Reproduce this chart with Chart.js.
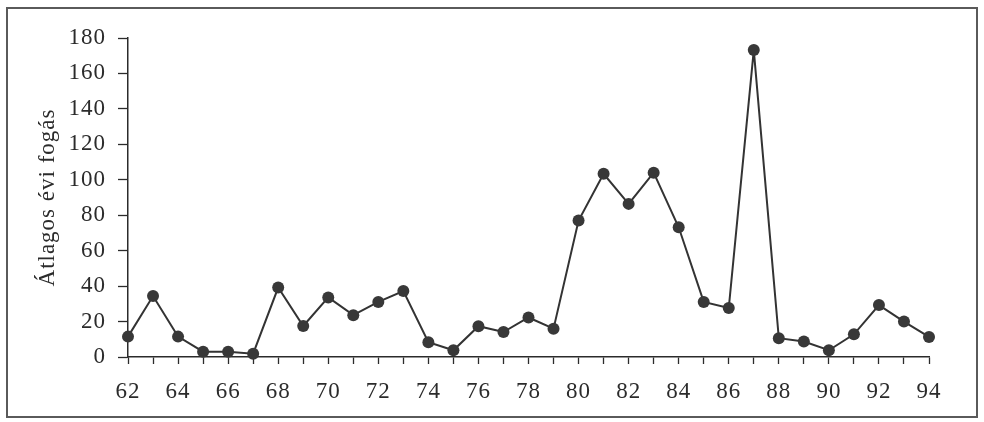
<!DOCTYPE html>
<html>
<head>
<meta charset="utf-8">
<script src="https://cdn.jsdelivr.net/npm/chart.js@4"></script>
<style>
  html, body { margin: 0; padding: 0; background: #ffffff; }
  #wrap { position: relative; width: 984px; height: 422px; }
</style>
</head>
<body>
<div id="wrap"><canvas id="c" width="984" height="422"></canvas></div>
<script>
const years = ['62','63','64','65','66','67','68','69','70','71','72','73','74','75','76','77','78','79','80','81','82','83','84','85','86','87','88','89','90','91','92','93','94'];
const catch_ = [11.5, 34.4, 11.5, 3, 3, 1.9, 39.2, 17.5, 33.6, 23.6, 31.1, 37.2, 8.3, 3.8, 17.4, 14.1, 22.3, 16, 77, 103.4, 86.4, 104, 73.2, 31.1, 27.6, 173.2, 10.6, 8.7, 3.8, 12.8, 29.3, 20, 11.3];
const yTitle = 'Átlagos évi fogás';

const ink = '#2b2b2b';
const serif = "'Liberation Serif', 'Times New Roman', serif";

const framePlugin = {
  id: 'frame',
  beforeDraw(chart) {
    const ctx = chart.ctx;
    ctx.save();
    ctx.fillStyle = '#ffffff';
    ctx.fillRect(0, 0, chart.width, chart.height);
    ctx.strokeStyle = '#5a5a5a';
    ctx.lineWidth = 2;
    ctx.strokeRect(7, 8, 970, 409);
    ctx.restore();
    ctx.letterSpacing = '1px';
  },
  afterDraw(chart) {
    chart.ctx.letterSpacing = '0px';
  }
};

new Chart(document.getElementById('c'), {
  type: 'line',
  data: {
    labels: years,
    datasets: [{
      data: catch_,
      borderColor: '#333333',
      borderWidth: 2,
      backgroundColor: '#383838',
      pointBackgroundColor: '#383838',
      pointBorderColor: '#383838',
      pointBorderWidth: 0,
      pointRadius: 6,
      tension: 0,
      clip: false
    }]
  },
  options: {
    responsive: false,
    animation: false,
    devicePixelRatio: 1,
    layout: { padding: { top: 38, right: 55, bottom: 0, left: 0 } },
    plugins: { legend: { display: false }, tooltip: { enabled: false } },
    scales: {
      x: {
        type: 'category',
        offset: false,
        afterFit(scale) { scale.height = 65; },
        border: { display: true, color: ink, width: 1.5 },
        grid: { drawOnChartArea: false, drawTicks: true, tickLength: 7, tickColor: ink, tickWidth: 1.3 },
        ticks: {
          autoSkip: false,
          maxRotation: 0,
          padding: 14,
          color: ink,
          font: { family: serif, size: 23 },
          callback(v, i) { return i % 2 === 0 ? years[i] : ''; }
        }
      },
      y: {
        min: 0,
        max: 180,
        afterFit(scale) { scale.width = 128; },
        border: { display: true, color: ink, width: 1.5 },
        grid: { drawOnChartArea: false, drawTicks: true, tickLength: 10, tickColor: ink, tickWidth: 1.3 },
        ticks: {
          stepSize: 20,
          padding: 12,
          color: ink,
          font: { family: serif, size: 23 }
        },
        title: {
          display: true,
          text: yTitle,
          color: ink,
          font: { family: serif, size: 23 },
          padding: { top: 34, bottom: 0 }
        }
      }
    }
  },
  plugins: [framePlugin]
});
</script>
</body>
</html>
